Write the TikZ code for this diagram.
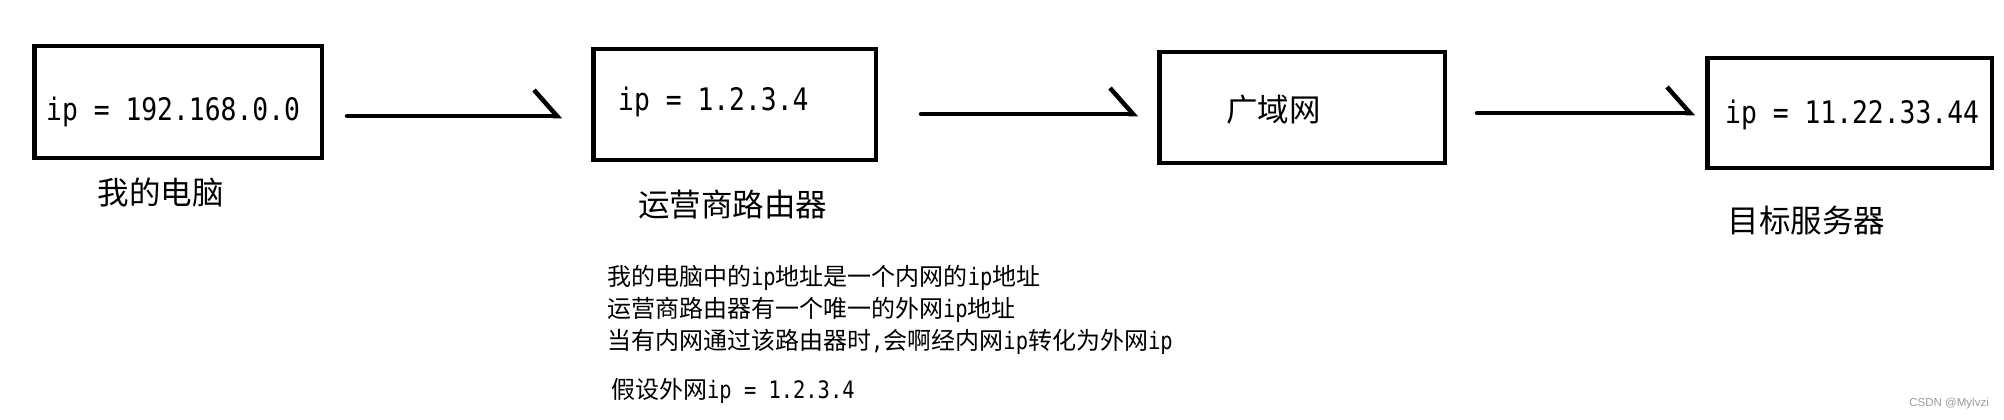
\documentclass[tikz,border=0pt]{standalone}
\usepackage{fontspec}
\usepackage{xcolor}
\usepackage{tikz}
\usetikzlibrary{arrows.meta}
\setmainfont{Noto Sans CJK SC}
\newfontfamily\ipfont[FakeStretch=0.85]{DejaVu Sans Mono}
\newfontfamily\wmfont{Liberation Sans}
\definecolor{wmgray}{HTML}{9A9A9A}
\tikzset{
    hostbox/.style={rectangle, draw, line width=4.5pt, inner sep=0pt, outer sep=2.25pt},
    iptext/.style={inner sep=0pt, anchor=west, font=\ipfont\fontsize{31}{36}\selectfont},
    cntext/.style={inner sep=0pt, font=\fontsize{31.5}{36}\selectfont},
    note/.style={inner sep=0pt, anchor=west, align=left, font=\fontsize{24}{32}\selectfont},
    flow/.style={-{Straight Barb[left, length=23pt, width=52pt]}, line width=4.5pt, line cap=round}
}

\begin{document}
\begin{tikzpicture}[x=1pt, y=-1pt]
        \useasboundingbox (0,0) rectangle (2004,420);
        % hosts
        \node[hostbox, minimum width=287.5pt, minimum height=111.5pt] (pc) at (178,102) {};
        \node[hostbox, minimum width=282.5pt, minimum height=110.5pt] (router) at (734.5,104.5) {};
        \node[hostbox, minimum width=285.5pt, minimum height=110.5pt] (wan) at (1302,107.5) {};
        \node[hostbox, minimum width=284.5pt, minimum height=109.5pt] (server) at (1849.5,113) {};
        \node[iptext] (pcip) at (46,112) {ip = 192.168.0.0};
        \node[iptext] (routerip) at (618,102) {ip = 1.2.3.4};
        \node[cntext] (wanname) at (1273.5,110) {广域网};
        \node[iptext] (serverip) at (1725,115) {ip = 11.22.33.44};
        \node[cntext] (pcname) at (160.5,193) {我的电脑};
        \node[cntext] (routername) at (732.5,205) {运营商路由器};
        \node[cntext] (servername) at (1806.5,221) {目标服务器};
        % links
        \draw[flow, shorten <=23pt, shorten >=29pt] ([yshift=-14pt]pc.east) -- ([yshift=-14pt]pc.east -| router.west);
        \draw[flow, shorten <=43pt, shorten >=19pt] ([yshift=-9.5pt]router.east) -- ([yshift=-9.5pt]router.east -| wan.west);
        \draw[flow, shorten <=30pt, shorten >=10pt] ([yshift=-5.5pt]wan.east) -- ([yshift=-5.5pt]wan.east -| server.west);
        % notes
        \node[note] (notes) at (607,310) {我的电脑中的{\ipfont ip}地址是一个内网的{\ipfont ip}地址\\
            运营商路由器有一个唯一的外网{\ipfont ip}地址\\
            当有内网通过该路由器时{\ipfont ,}会啊经内网{\ipfont ip}转化为外网{\ipfont ip}};
        \node[note] (guess) at (611,391) {假设外网{\ipfont ip = 1.2.3.4}};
        \node[inner sep=0pt, anchor=east, text=wmgray, font=\wmfont\fontsize{11.5}{13}\selectfont] (mark) at (1989,404) {CSDN @Mylvzi};
    \end{tikzpicture}
\end{document}
